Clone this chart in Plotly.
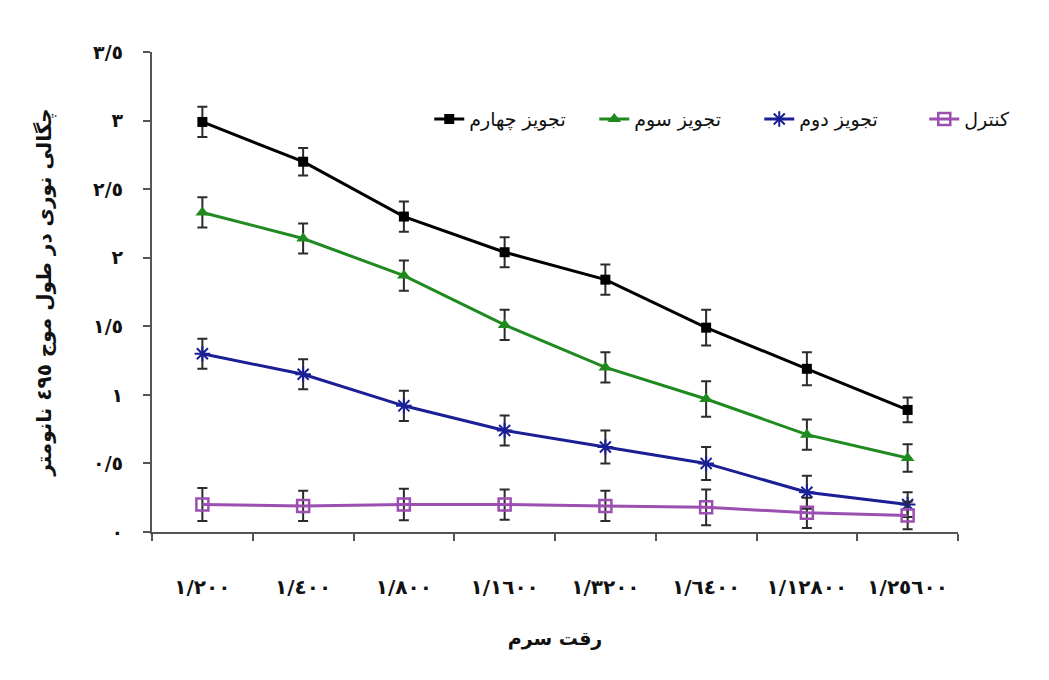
import plotly.graph_objects as go

categories = ["١/٢٠٠", "١/٤٠٠", "١/٨٠٠", "١/١٦٠٠", "١/٣٢٠٠", "١/٦٤٠٠", "١/١٢٨٠٠", "١/٢٥٦٠٠"]

fourth_name = "تجویز چهارم"
fourth_vals = [2.99, 2.70, 2.30, 2.04, 1.84, 1.49, 1.19, 0.89]
fourth_err = [0.11, 0.10, 0.11, 0.11, 0.11, 0.13, 0.12, 0.09]

third_name = "تجویز سوم"
third_vals = [2.33, 2.14, 1.87, 1.51, 1.20, 0.97, 0.71, 0.54]
third_err = [0.11, 0.11, 0.11, 0.11, 0.11, 0.13, 0.11, 0.10]

second_name = "تجویز دوم"
second_vals = [1.30, 1.15, 0.92, 0.74, 0.62, 0.50, 0.29, 0.20]
second_err = [0.11, 0.11, 0.11, 0.11, 0.12, 0.12, 0.12, 0.09]

control_name = "کنترل"
control_vals = [0.20, 0.19, 0.20, 0.20, 0.19, 0.18, 0.14, 0.12]
control_err = [0.12, 0.11, 0.115, 0.11, 0.11, 0.13, 0.11, 0.10]

y_tickvals = [0, 0.5, 1, 1.5, 2, 2.5, 3, 3.5]
y_ticktext = ["٠", "٠/٥", "١", "١/٥", "٢", "٢/٥", "٣", "٣/٥"]

x_title = "رقت سرم"
y_title = "چگالی نوری در طول موج ٤٩٥ نانومتر"

FONT = "DejaVu Sans"
ERR_COLOR = "#2b2b2b"

series = [
    (fourth_name, fourth_vals, fourth_err, "#000000", dict(symbol="square", size=10, color="#000000")),
    (third_name, third_vals, third_err, "#1f8a1f", dict(symbol="triangle-up", size=12, color="#1f8a1f")),
    (second_name, second_vals, second_err, "#1a1f96",
     dict(symbol="asterisk-open", size=13, color="#1a1f96", line=dict(color="#1a1f96", width=2))),
    (control_name, control_vals, control_err, "#9b4fb0",
     dict(symbol="square-open", size=12, color="#9b4fb0", line=dict(color="#9b4fb0", width=2.5))),
]

fig = go.Figure()
for name, vals, err, color, marker in series:
    fig.add_trace(go.Scatter(
        x=categories, y=vals, name=name, mode="lines+markers",
        line=dict(color=color, width=3),
        marker=marker,
        error_y=dict(type="data", array=err, visible=True, color=ERR_COLOR, thickness=2, width=5),
    ))

fig.update_layout(
    width=1049, height=680,
    margin=dict(l=152, r=91, t=52, b=148, autoexpand=False),
    paper_bgcolor="white", plot_bgcolor="white",
    font=dict(family=FONT, color="#111111"),
    showlegend=True,
    legend=dict(orientation="h", x=0.344, xanchor="left", y=0.86, yanchor="middle",
                bgcolor="rgba(0,0,0,0)", font=dict(size=19, family=FONT, color="#111111"),
                itemwidth=30, entrywidth=120, entrywidthmode="pixels"),
)

fig.update_xaxes(
    type="category", range=[-0.5, 7.5], tickson="boundaries",
    showline=True, linecolor="#555555", linewidth=2,
    ticks="outside", ticklen=7, tickwidth=2, tickcolor="#555555",
    showgrid=False, zeroline=False,
    tickfont=dict(size=20, family=FONT, color="#111111", weight="bold"),
    ticklabelstandoff=36,
    title=dict(text=x_title, font=dict(size=19, family=FONT, color="#111111", weight="bold"), standoff=34),
)
fig.update_yaxes(
    range=[0, 3.5], tickvals=y_tickvals, ticktext=y_ticktext,
    showline=True, linecolor="#555555", linewidth=2,
    ticks="outside", ticklen=7, tickwidth=2, tickcolor="#555555",
    showgrid=False, zeroline=False,
    tickfont=dict(size=19, family=FONT, color="#111111", weight="bold"),
    ticklabelstandoff=16,
    title=dict(text=y_title, font=dict(size=20, family=FONT, color="#111111", weight="bold"), standoff=36),
)

fig.write_html("out.html")
